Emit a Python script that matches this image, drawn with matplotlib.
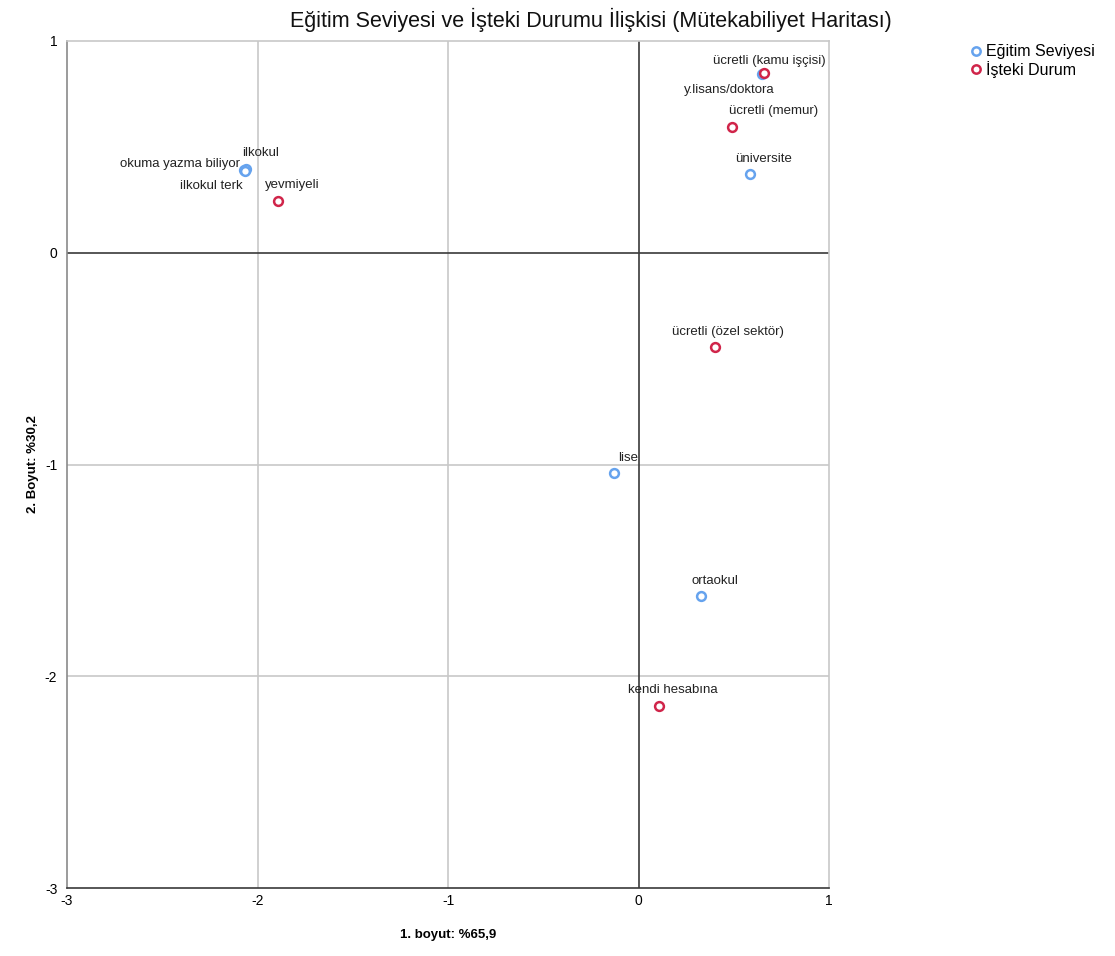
import matplotlib
matplotlib.use("Agg")
import matplotlib.pyplot as plt
from matplotlib.lines import Line2D
from matplotlib import font_manager

fams = {f.name for f in font_manager.fontManager.ttflist}
narrow = "Liberation Sans Narrow" if "Liberation Sans Narrow" in fams else "Liberation Sans"
plt.rcParams['font.family'] = ['Liberation Sans', 'DejaVu Sans']

# Data
egitim_labels = ["okuma yazma biliyor", "ilkokul", "ilkokul terk", "y.lisans/doktora",
                 "üniversite", "lise", "ortaokul"]
egitim_x = [-2.07, -2.06, -2.065, 0.647, 0.584, -0.126, 0.33]
egitim_y = [0.39, 0.395, 0.385, 0.845, 0.373, -1.038, -1.62]

durum_labels = ["ücretli (kamu işçisi)", "ücretli (memur)", "yevmiyeli",
                "ücretli (özel sektör)", "kendi hesabına"]
durum_x = [0.66, 0.49, -1.895, 0.40, 0.11]
durum_y = [0.85, 0.594, 0.245, -0.443, -2.14]

ticks = [-3, -2, -1, 0, 1]

# label offsets (pixels) and alignment
egitim_off = [(-4, 6, 'right'), (-4, 16, 'left'), (-2, -15, 'right'), (-78, -16, 'left'),
              (-15, 15, 'left'), (4, 15, 'left'), (-10, 15, 'left')]
durum_off = [(-51, 12, 'left'), (-3, 16, 'left'), (-13, 16, 'left'),
             (-43, 15, 'left'), (-31, 16, 'left')]

blue = "#66a3ee"
red = "#d0254a"

fig = plt.figure(figsize=(11.15, 9.56), dpi=100)
ax = fig.add_axes([67/1115, 1-888/956, (829-67)/1115, (888-41)/956])

ax.set_xlim(-3, 1)
ax.set_ylim(-3, 1)
ax.set_xticks(ticks)
ax.set_yticks(ticks)
for t in [-2, -1]:
    ax.axvline(t, color="#c8c8c8", lw=1.2, zorder=0)
    ax.axhline(t, color="#c8c8c8", lw=1.2, zorder=0)
ax.axvline(0, color="#3a3a3a", lw=1.2, zorder=1)
ax.axhline(0, color="#3a3a3a", lw=1.2, zorder=1)

for side in ['top', 'right']:
    ax.spines[side].set_color("#c8c8c8")
    ax.spines[side].set_linewidth(1.2)
ax.spines['left'].set_color("#8a8a8a")
ax.spines['left'].set_linewidth(1.2)
ax.spines['bottom'].set_color("#3a3a3a")
ax.spines['bottom'].set_linewidth(1.2)
ax.tick_params(length=0, labelsize=10)
ax.set_xticklabels([str(t) for t in ticks], fontfamily=narrow)
ax.set_yticklabels([str(t) for t in ticks], fontfamily=narrow)
ax.tick_params(axis='x', pad=4)
ax.tick_params(axis='y', pad=7)

ax.scatter(egitim_x, egitim_y, s=40, facecolors='white', edgecolors=blue, linewidths=1.8, zorder=3)
ax.scatter(durum_x, durum_y, s=40, facecolors='white', edgecolors=red, linewidths=1.8, zorder=3)

for lbl, x, y, (dx, dy, ha) in zip(egitim_labels, egitim_x, egitim_y, egitim_off):
    ax.annotate(lbl, (x, y), xytext=(dx, dy), textcoords='offset pixels',
                ha=ha, va='center', fontsize=9.5, color="#222222", zorder=4)
for lbl, x, y, (dx, dy, ha) in zip(durum_labels, durum_x, durum_y, durum_off):
    ax.annotate(lbl, (x, y), xytext=(dx, dy), textcoords='offset pixels',
                ha=ha, va='center', fontsize=9.5, color="#222222", zorder=4)

ax.set_xlabel("1. boyut: %65,9", fontsize=9.5, fontweight='bold', fontfamily=narrow)
ax.set_ylabel("2. Boyut: %30,2", fontsize=9.5, fontweight='bold', fontfamily=narrow)
ax.xaxis.set_label_coords(0.5, -(935 - 888) / 847)
ax.yaxis.set_label_coords(-(67 - 33) / 762, 0.5)
ax.xaxis.label.set_va('center')
ax.yaxis.label.set_va('center')

fig.text(591/1115, 1-20/956, "Eğitim Seviyesi ve İşteki Durumu İlişkisi (Mütekabiliyet Haritası)",
         ha='center', va='center', fontsize=15.5, color="#111111")

handles = [Line2D([], [], marker='o', ls='none', markerfacecolor='white', markeredgecolor=blue,
                  markeredgewidth=1.8, markersize=6),
           Line2D([], [], marker='o', ls='none', markerfacecolor='white', markeredgecolor=red,
                  markeredgewidth=1.8, markersize=6)]
fig.legend(handles, ["Eğitim Seviyesi", "İşteki Durum"], loc='upper left',
           bbox_to_anchor=(962/1115, 1-38/956), frameon=False, fontsize=11.5,
           handletextpad=0.1, labelspacing=0.1, borderaxespad=0, handlelength=1.0)

fig.savefig("out.png", dpi=100)
